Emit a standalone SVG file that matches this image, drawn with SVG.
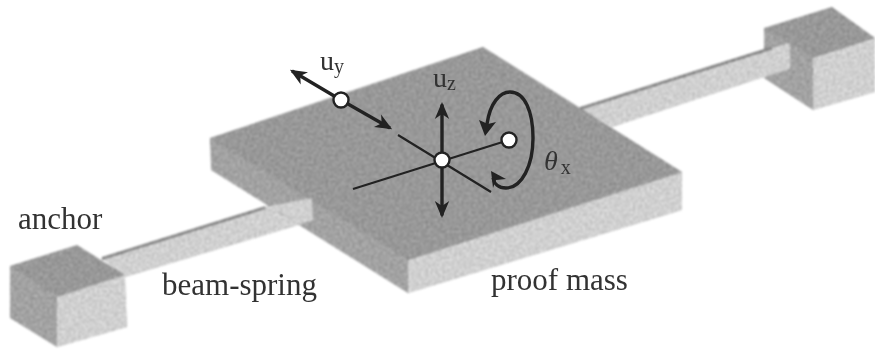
<svg xmlns="http://www.w3.org/2000/svg" width="875" height="351" viewBox="0 0 875 351">
<defs>
<filter id="grain" filterUnits="userSpaceOnUse" x="0" y="0" width="875" height="351" color-interpolation-filters="sRGB">
<feTurbulence type="fractalNoise" baseFrequency="0.42" numOctaves="3" seed="4" result="n"/>
<feColorMatrix in="n" type="matrix" values="1 0 0 0 0  1 0 0 0 0  1 0 0 0 0  0 0 0 0 1" result="g"/>
<feComposite in="SourceGraphic" in2="g" operator="arithmetic" k1="0" k2="1" k3="0.32" k4="-0.16" result="m"/>
<feComposite in="m" in2="SourceAlpha" operator="in" result="c"/>
<feGaussianBlur in="c" stdDeviation="0.8"/>
</filter>
<filter id="soft" filterUnits="userSpaceOnUse" x="0" y="0" width="875" height="351"><feGaussianBlur stdDeviation="0.45"/></filter>
<marker id="ah" markerWidth="18" markerHeight="16" refX="12" refY="6" orient="auto-start-reverse" markerUnits="userSpaceOnUse" viewBox="0 0 15 12">
<path d="M0 0L14 6L0 12L4 6Z" fill="#222"/>
</marker>
</defs>
<style>
.top{fill:#989898}
.side{fill:#d0d0d0}
.dark{fill:#a2a2a2}
.edge{fill:#858585}
.ax{stroke:#222;stroke-width:2.2;fill:none}
.arw{stroke:#222;stroke-width:3.4;fill:none}
.dot{fill:#fff;stroke:#222;stroke-width:2.4}
text{font-family:"Liberation Serif","Times New Roman",serif;fill:#333;font-size:31px}
.sym{font-size:28px}
.sub{font-size:20px}
</style>
<g filter="url(#grain)">
<g id="anchor-right">
<polygon class="top" points="764,28 832,7 875,38 813,58"/>
<polygon class="side" points="813,58 875,38 875,92 813,110"/>
<polygon class="dark" points="764,28 813,58 813,110 764,78"/>
</g>
<g id="beam-right">
<polygon class="side" points="580,108 764,50 790,43 790,69 764,77 612,127"/>
<polygon class="edge" points="580,107 764,49 772,47 772,50 764,52 580,110"/>
</g>
<g id="beam-left">
<polygon class="side" points="102,258 265,207 312,198 313,220 298,225 125,277"/>
<polygon class="edge" points="102,257 265,206 265,209 102,260"/>
</g>
<g id="proof-mass">
<polygon class="dark" points="210,138 408,260 408,293 211,170"/>
<polygon class="side" points="408,260 682,172 682,210 408,293"/>
<polygon class="top" points="210,138 483,47 682,172 408,260"/>
</g>
<g id="beam-stub">
<polygon class="side" points="265,207 312,198 313,220 298,225 280,212"/>
</g>
<g id="anchor-left">
<polygon class="top" points="10,266 77,245 125,275 57,297"/>
<polygon class="dark" points="10,266 57,297 57,347 10,318"/>
<polygon class="side" points="57,297 125,275 127,327 57,347"/>
</g>
</g>
<g id="connectors">
<line class="ax" x1="353" y1="189" x2="509" y2="140"/>
<line class="ax" x1="398" y1="135" x2="491" y2="192"/>
<line class="arw" x1="442" y1="104.5" x2="442" y2="215.5" marker-start="url(#ah)" marker-end="url(#ah)"/>
<line class="arw" x1="341" y1="100" x2="292" y2="71" marker-end="url(#ah)"/>
<line class="arw" x1="341" y1="100" x2="390" y2="128" marker-end="url(#ah)"/>
<path class="arw" d="M487 124C490 103 500 92 510 92C525 92 533 112 533 138C533 165 522 188 506 188C498 188 494 183 493 178"/>
<path d="M485 136L479 120L488 124L496 122Z" fill="#222"/>
<path d="M491 171L506 179L496 180L493 188Z" fill="#222"/>
</g>
<g id="markers">
<circle class="dot" cx="341" cy="100" r="7.5"/>
<circle class="dot" cx="442" cy="160" r="7.5"/>
<circle class="dot" cx="509" cy="140" r="7.5"/>
</g>
<g id="labels" filter="url(#soft)">
<text x="18" y="229">anchor</text>
<text x="162" y="295">beam-spring</text>
<text x="491" y="290">proof mass</text>
<text class="sym" x="320" y="70">u<tspan class="sub" dy="3">y</tspan></text>
<text class="sym" x="433" y="87">u<tspan class="sub" dy="3">z</tspan></text>
<text class="sym" x="544" y="170" font-style="italic">θ<tspan class="sub" font-style="normal" dy="4" dx="3">x</tspan></text>
</g>
</svg>
